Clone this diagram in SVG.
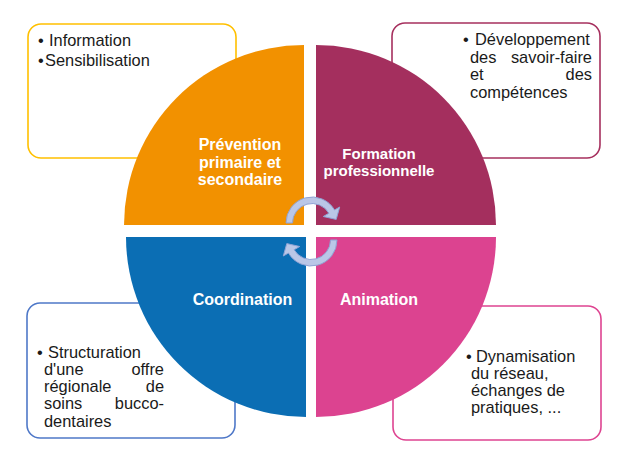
<svg xmlns="http://www.w3.org/2000/svg" xmlns:xlink="http://www.w3.org/1999/xlink" width="636" height="462" viewBox="0 0 636 462">
<style>
.box{fill:#ffffff;stroke-width:1.6}
.bt{font-family:"Liberation Sans",Arial,sans-serif;font-size:16.4px;fill:#1a1a1a}
.ql{font-family:"Liberation Sans",Arial,sans-serif;font-weight:bold;fill:#ffffff;text-anchor:middle}
.end{text-anchor:end}
.arr{fill:#BAC7E7;stroke:#8FA3D5;stroke-width:1}
</style>
<defs>
<path id="cyc" d="M286,223 A26,26 0 0 1 334.52,210 L339.71,207 L336.2,219.4 L323.26,216.5 L328.89,213.25 A19.5,19.5 0 0 0 292.5,223 Z"/>
</defs>
<rect width="636" height="462" fill="#ffffff"/>

<g id="box-prevention">
<rect class="box" x="28" y="24" width="208" height="134" rx="13" stroke="#FFC000"/>
<text class="bt"><tspan x="38" y="46">•</tspan><tspan x="49" y="46">Information</tspan><tspan x="38" y="66">•</tspan><tspan x="45" y="66">Sensibilisation</tspan></text>
</g>
<g id="box-formation">
<rect class="box" x="392" y="23" width="208" height="135" rx="13" stroke="#A6305E"/>
<text class="bt"><tspan x="463" y="45">•</tspan><tspan x="475" y="45">Développement</tspan><tspan x="470" y="62.5">des</tspan><tspan x="470" y="80">et</tspan><tspan x="470" y="97.5">compétences</tspan></text>
<text class="bt end"><tspan x="592" y="62.5">savoir-faire</tspan><tspan x="592" y="80">des</tspan></text>
</g>
<g id="box-coordination">
<rect class="box" x="27" y="303" width="208" height="135" rx="13" stroke="#4F78C8"/>
<text class="bt"><tspan x="37" y="358">•</tspan><tspan x="48" y="358">Structuration</tspan><tspan x="44" y="375">d'une</tspan><tspan x="44" y="392">régionale</tspan><tspan x="44" y="409">soins</tspan><tspan x="44" y="426.5">dentaires</tspan></text>
<text class="bt end"><tspan x="164" y="375">offre</tspan><tspan x="164" y="392">de</tspan><tspan x="164" y="409">bucco-</tspan></text>
</g>
<g id="box-animation">
<rect class="box" x="393" y="306" width="208" height="134" rx="13" stroke="#DE4491"/>
<text class="bt"><tspan x="466" y="362">•</tspan><tspan x="476" y="362">Dynamisation</tspan><tspan x="471" y="379">du réseau,</tspan><tspan x="471" y="396">échanges de</tspan><tspan x="471" y="413">pratiques, ...</tspan></text>
</g>

<g id="q-prevention">
<path d="M304,225 L124,225 A180,180 0 0 1 304,45 Z" fill="#F29100"/>
<text class="ql" font-size="16"><tspan x="240" y="150">Prévention</tspan><tspan x="240" y="167.5">primaire et</tspan><tspan x="240" y="185">secondaire</tspan></text>
</g>
<g id="q-formation">
<path d="M316,225 L316,45 A180,180 0 0 1 496,225 Z" fill="#A42F5E"/>
<text class="ql" font-size="15"><tspan x="379" y="159">Formation</tspan><tspan x="379" y="175.5">professionnelle</tspan></text>
</g>
<g id="q-coordination">
<path d="M306,237 L306,417 A180,180 0 0 1 126,237 Z" fill="#0B6EB4"/>
<text class="ql" font-size="16" x="242.5" y="305">Coordination</text>
</g>
<g id="q-animation">
<path d="M316,237 L496,237 A180,180 0 0 1 316,417 Z" fill="#DC4390"/>
<text class="ql" font-size="16" x="379" y="305">Animation</text>
</g>

<g id="connectors">
<use xlink:href="#cyc" class="arr"/>
<use xlink:href="#cyc" class="arr" transform="rotate(180 311.5 231.5)"/>
</g>
</svg>
